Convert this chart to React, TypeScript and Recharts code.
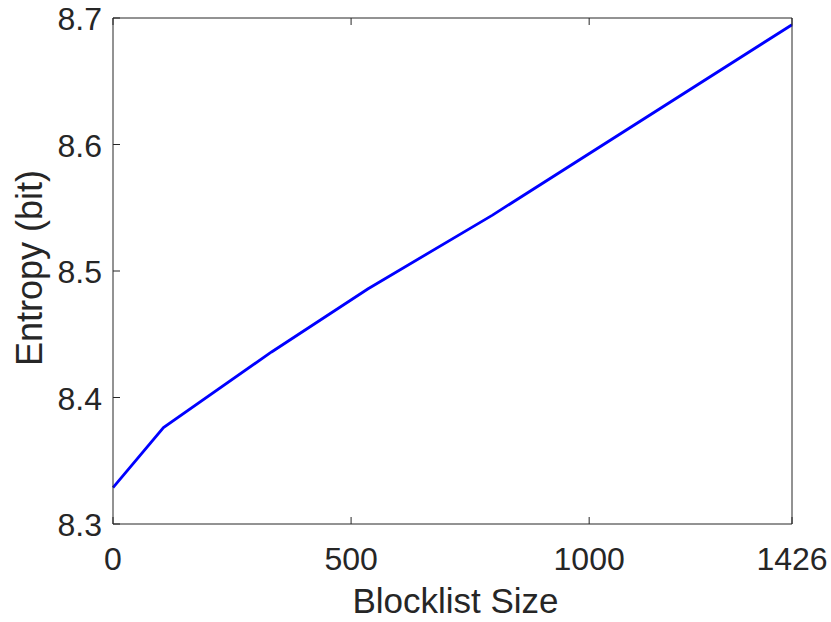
import React from 'react';
import { Line, LineChart, XAxis, YAxis } from 'recharts';

const blocklistSize = [0, 106, 333, 535, 797, 1426];
const entropyBits = [8.3287, 8.3763, 8.436, 8.4858, 8.5442, 8.6947];
const xTicks = [0, 500, 1000, 1426];
const yTicks = [8.3, 8.4, 8.5, 8.6, 8.7];

const data = blocklistSize.map((size, i) => ({ size, entropy: entropyBits[i] }));

const ink = '#262626';
const font = '"Liberation Sans", Arial, sans-serif';
const tickLen = 7;

const BottomTick = ({ x, y, payload }: any) => (
  <g>
    <line x1={x} y1={y} x2={x} y2={y - tickLen} stroke={ink} strokeWidth={1} />
    <text x={x} y={y + 46} textAnchor="middle" fill={ink} fontSize={32} fontFamily={font}>
      {payload.value}
    </text>
  </g>
);

const TopTick = ({ x, y }: any) => (
  <line x1={x} y1={y} x2={x} y2={y + tickLen} stroke={ink} strokeWidth={1} />
);

const LeftTick = ({ x, y, payload }: any) => (
  <g>
    <line x1={x} y1={y} x2={x + tickLen} y2={y} stroke={ink} strokeWidth={1} />
    <text x={x - 11} y={y + 12} textAnchor="end" fill={ink} fontSize={32} fontFamily={font}>
      {payload.value.toFixed(1)}
    </text>
  </g>
);

const RightTick = ({ x, y }: any) => (
  <line x1={x} y1={y} x2={x - tickLen} y2={y} stroke={ink} strokeWidth={1} />
);

const YTitle = ({ viewBox }: any) => {
  const cx = 42;
  const cy = viewBox.y + viewBox.height / 2 - 3;
  return (
    <text x={cx} y={cy} transform={`rotate(-90, ${cx}, ${cy})`} textAnchor="middle" fill={ink} fontSize={36} fontFamily={font}>
      Entropy (bit)
    </text>
  );
};

const XTitle = ({ viewBox }: any) => {
  const cx = viewBox.x + viewBox.width / 2 + 3;
  return (
    <text x={cx} y={613} textAnchor="middle" fill={ink} fontSize={35} fontFamily={font}>
      Blocklist Size
    </text>
  );
};

export default function App() {
  return (
    <div style={{ position: 'absolute', left: 0, top: 0, background: '#fff' }}>
      <LineChart width={831} height={622} data={data} margin={{ top: 0, right: 0, bottom: 0, left: 0 }}>
        <XAxis
          dataKey="size"
          type="number"
          domain={[0, 1426]}
          ticks={xTicks}
          height={98}
          tickSize={0}
          tickMargin={0}
          tick={<BottomTick />}
          axisLine={{ stroke: ink, strokeWidth: 1 }}
          label={<XTitle />}
        />
        <XAxis
          xAxisId="top"
          orientation="top"
          dataKey="size"
          type="number"
          domain={[0, 1426]}
          ticks={xTicks}
          height={18}
          tickSize={0}
          tickMargin={0}
          tick={<TopTick />}
          axisLine={{ stroke: ink, strokeWidth: 1 }}
        />
        <YAxis
          type="number"
          domain={[8.3, 8.7]}
          ticks={yTicks}
          width={113}
          tickSize={0}
          tickMargin={0}
          tick={<LeftTick />}
          axisLine={{ stroke: ink, strokeWidth: 1 }}
          label={<YTitle />}
        />
        <YAxis
          yAxisId="right"
          orientation="right"
          type="number"
          domain={[8.3, 8.7]}
          ticks={yTicks}
          width={39}
          tickSize={0}
          tickMargin={0}
          tick={<RightTick />}
          axisLine={{ stroke: ink, strokeWidth: 1 }}
        />
        <Line
          type="linear"
          dataKey="entropy"
          stroke="#0000ff"
          strokeWidth={2.8}
          dot={false}
          isAnimationActive={false}
        />
      </LineChart>
    </div>
  );
}
